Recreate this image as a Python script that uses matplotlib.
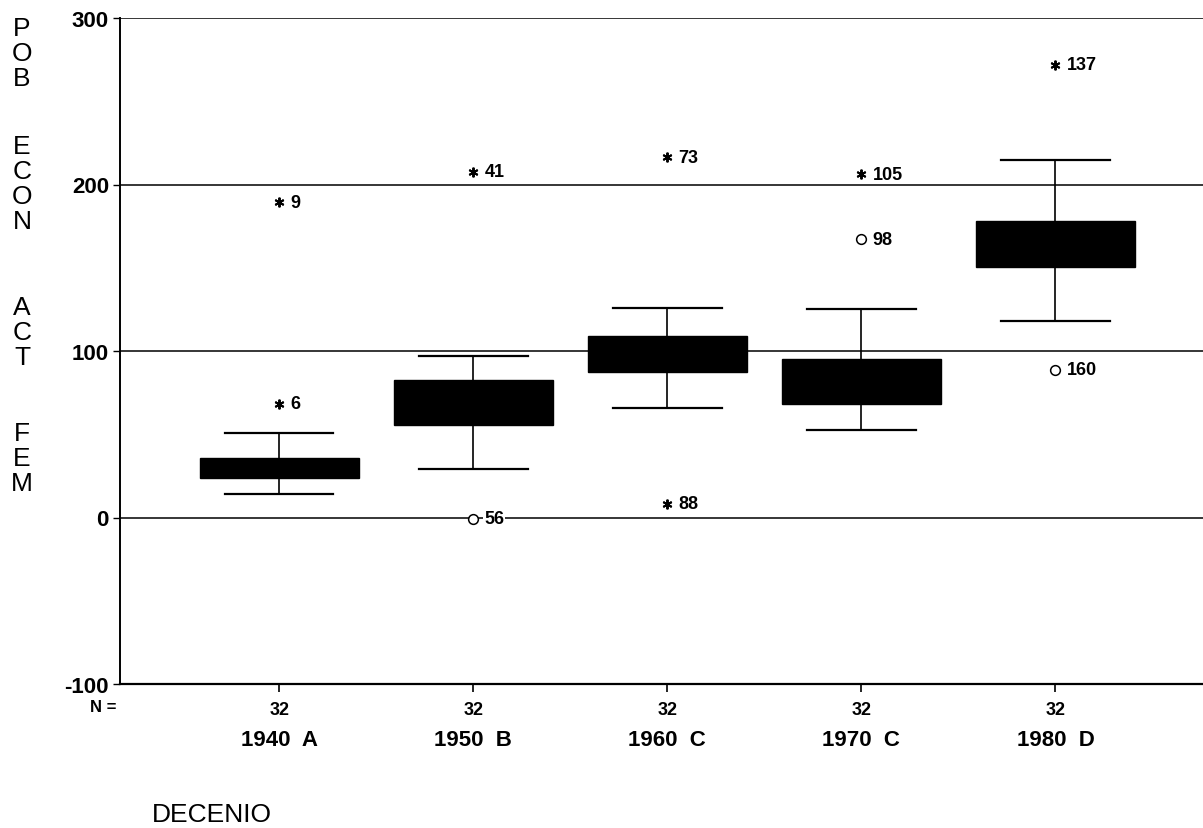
import matplotlib
matplotlib.use("Agg")
import matplotlib.pyplot as plt
import matplotlib.transforms as mtransforms

plt.rcParams['font.family'] = ['Liberation Sans', 'DejaVu Sans']
plt.rcParams['axes.unicode_minus'] = False

# Boxplot summaries per decade
decades = ['1940  A', '1950  B', '1960  C', '1970  C', '1980  D']
n_obs = [32, 32, 32, 32, 32]
q1 = [23.9, 55.3, 87.4, 67.9, 150.5]
medians = [30.0, 70.0, 98.0, 80.0, 165.0]
q3 = [35.9, 82.4, 108.8, 95.0, 178.0]
whis_lo = [14.3, 28.9, 65.7, 52.7, 118.0]
whis_hi = [50.7, 96.8, 126.1, 125.5, 214.7]

# extreme cases (*) and outliers (o): group number, value, case id
extreme_group = [1, 1, 2, 3, 3, 4, 5]
extreme_value = [189.4, 68.4, 207.6, 216.3, 8.2, 206.1, 271.8]
extreme_case = ['9', '6', '41', '73', '88', '105', '137']

outlier_group = [2, 4, 5]
outlier_value = [-0.8, 167.0, 88.8]
outlier_case = ['56', '98', '160']

fig = plt.figure(figsize=(12.03, 8.29), dpi=100)
ax = fig.add_axes([120 / 1203, 1 - 685 / 829, 1083 / 1203, 666 / 829])

stats = []
for i in range(len(decades)):
    stats.append({'q1': q1[i], 'med': medians[i], 'q3': q3[i],
                  'whislo': whis_lo[i], 'whishi': whis_hi[i],
                  'fliers': [], 'label': str(n_obs[i])})

positions = list(range(1, len(decades) + 1))
ax.bxp(stats, positions=positions, widths=0.82, patch_artist=True,
       showfliers=False,
       boxprops=dict(facecolor='black', edgecolor='black', linewidth=1),
       medianprops=dict(color='black', linewidth=1),
       whiskerprops=dict(color='black', linewidth=1.2),
       capprops=dict(color='black', linewidth=1.6),
       capwidths=0.56, zorder=3)

ax.plot(extreme_group, extreme_value, linestyle='none', marker=(6, 2, 0),
        markersize=7, markeredgewidth=1.4, color='black', zorder=4)
ax.plot(outlier_group, outlier_value, linestyle='none', marker='o',
        markersize=7, markerfacecolor='white', markeredgecolor='black',
        markeredgewidth=1.1, zorder=4)

for g, v, c in zip(extreme_group, extreme_value, extreme_case):
    ax.annotate(c, (g, v), xytext=(8, 0), textcoords='offset points',
                ha='left', va='center', fontsize=13, fontweight='bold', zorder=5)
for g, v, c in zip(outlier_group, outlier_value, outlier_case):
    ax.annotate(c, (g, v), xytext=(8, 0), textcoords='offset points',
                ha='left', va='center', fontsize=13, fontweight='bold', zorder=5,
                bbox=dict(boxstyle='square,pad=0.05', facecolor='white', edgecolor='none'))

ax.set_xlim(0.18, 5.76)
ax.set_ylim(-100, 300)
ax.set_yticks([-100, 0, 100, 200, 300])
ax.tick_params(axis='y', length=5, width=1, pad=3, labelsize=16)
for lab in ax.get_yticklabels():
    lab.set_fontweight('bold')
ax.set_xticks(positions)
ax.set_xticklabels([str(n) for n in n_obs], fontsize=13, fontweight='bold')
ax.tick_params(axis='x', length=6, width=1.2, pad=6)

ax.grid(axis='y', color='black', linewidth=1.1)
ax.set_axisbelow(True)
for side in ['top', 'right']:
    ax.spines[side].set_visible(False)
ax.spines['left'].set_linewidth(1.4)
ax.spines['bottom'].set_linewidth(1.6)

# decade names under the N counts
trans = mtransforms.blended_transform_factory(ax.transData, ax.transAxes)
for p, name in zip(positions, decades):
    ax.text(p, -0.083, name, transform=trans, ha='center', va='center',
            fontsize=16, fontweight='bold')

fig.text(103 / 1203, 1 - 708 / 829, 'N =', ha='center', va='center',
         fontsize=12, fontweight='bold')
fig.text(152 / 1203, 1 - 815 / 829, 'DECENIO', ha='left', va='center', fontsize=19)

# vertical axis title, one letter per line
words = ['POB', 'ECON', 'ACT', 'FEM']
word_tops = [29, 147, 308, 434]
for w, y0 in zip(words, word_tops):
    for k, ch in enumerate(w):
        y = y0 + 25 * k
        fig.text(22 / 1203, 1 - y / 829, ch, ha='center', va='center', fontsize=19)

fig.savefig('out.png', dpi=100)
